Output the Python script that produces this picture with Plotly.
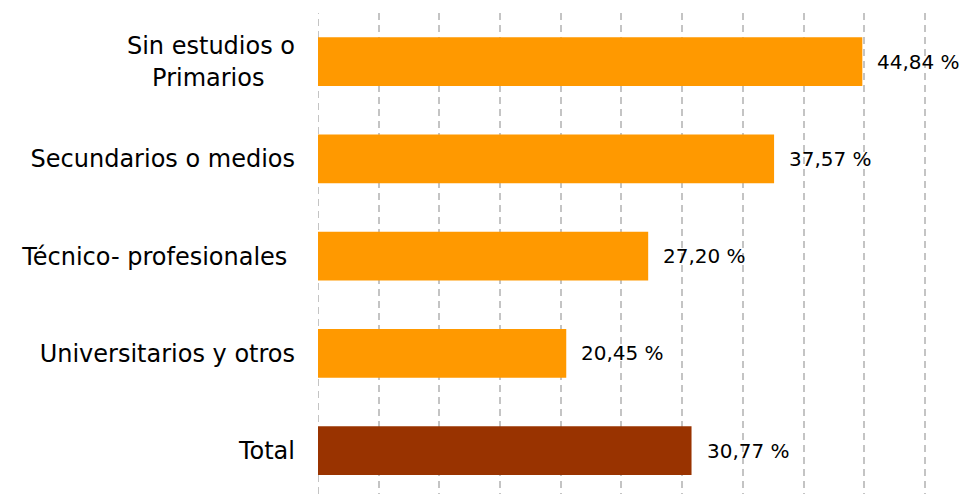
import plotly.graph_objects as go

categories = ["Sin estudios o Primarios", "Secundarios o medios", "Técnico- profesionales",
              "Universitarios y otros", "Total"]
tick_labels = ["Sin estudios o<br>Primarios\u00a0\u00a0\u00a0\u00a0", "Secundarios o medios",
               "Técnico- profesionales\u00a0", "Universitarios y otros", "Total"]
values = [44.84, 37.57, 27.20, 20.45, 30.77]
colors = ["#FF9900", "#FF9900", "#FF9900", "#FF9900", "#993300"]

value_text = [f"{v:.2f}".replace(".", ",") + " %" for v in values]

fig = go.Figure()
fig.add_trace(go.Bar(
    y=categories, x=values, orientation="h",
    marker=dict(color=colors, line=dict(width=0)),
    width=0.5, hoverinfo="skip",
))

for c, v, t in zip(categories, values, value_text):
    fig.add_annotation(x=v, y=c, text=t, showarrow=False, xanchor="left",
                       xshift=13, font=dict(family="DejaVu Sans", size=20, color="#000000"))

# gridline at zero (plotly hides gridlines on the plot edge)
fig.add_shape(type="line", x0=0, x1=0, xref="x", y0=0, y1=1, yref="paper",
              line=dict(color="#C4C4C4", width=2, dash="7px,5px"), layer="below")

fig.update_layout(
    width=962, height=494,
    margin=dict(l=318, r=0, t=13, b=0),
    plot_bgcolor="white", paper_bgcolor="white",
    showlegend=False,
    xaxis=dict(range=[0, 53.05], dtick=5, tick0=0, showticklabels=False,
               showgrid=True, gridcolor="#C4C4C4", gridwidth=2, griddash="7px,5px",
               zeroline=False, showline=False, ticks=""),
    yaxis=dict(categoryorder="array", categoryarray=categories,
               range=[4.446, -0.5], tickmode="array", tickvals=categories,
               ticktext=tick_labels, showgrid=False, zeroline=False, showline=False,
               ticks="", ticklabelstandoff=22,
               tickfont=dict(family="DejaVu Sans", size=24, color="#000000")),
)

fig.write_html("out.html", config={"displayModeBar": False},
               post_script="document.body.style.margin='0';")
